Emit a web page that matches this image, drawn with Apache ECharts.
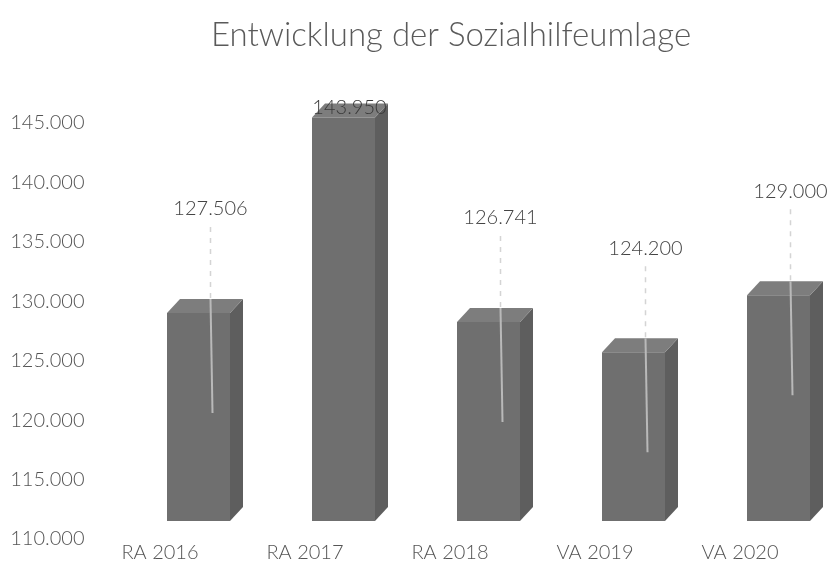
<!DOCTYPE html>
<html>
<head>
<meta charset="utf-8">
<script src="https://cdn.jsdelivr.net/npm/echarts@6/dist/echarts.min.js"></script>
<style>html,body{margin:0;padding:0;background:#fff}#c{width:830px;height:573px}</style>
</head>
<body>
<div id="c"></div>
<script>
const categories = ['RA 2016', 'RA 2017', 'RA 2018', 'VA 2019', 'VA 2020'];
const values = [127506, 143950, 126741, 124200, 129000];
const axisMin = 110000;
const axisMax = 145000;
const axisStep = 5000;

function fmt(v) {
  const s = String(Math.round(v));
  return s.replace(/\B(?=(\d{3})+(?!\d))/g, '.');
}

const chart = echarts.init(document.getElementById('c'), null, { renderer: 'canvas' });
const FONT = 'Lato, "Open Sans", sans-serif';

chart.setOption({
  backgroundColor: '#ffffff',
  animation: false,
  title: {
    text: 'Entwicklung der Sozialhilfeumlage',
    left: 446, top: 14, textAlign: 'center',
    textStyle: { fontFamily: FONT, fontSize: 33, fontWeight: 300, color: '#5a5a5a' }
  },
  grid: { left: 87.5, right: 17.5, top: 105, bottom: 52, containLabel: false },
  xAxis: {
    type: 'category',
    data: categories,
    axisLine: { show: false },
    axisTick: { show: false },
    axisLabel: { margin: 22, fontFamily: FONT, fontSize: 20, fontWeight: 300, color: '#555555' }
  },
  yAxis: {
    type: 'value',
    min: axisMin, max: axisMax, interval: axisStep,
    axisLine: { show: false },
    axisTick: { show: false },
    splitLine: { show: false },
    axisLabel: {
      margin: 3, showMinLabel: true, showMaxLabel: true, hideOverlap: false,
      fontFamily: FONT, fontSize: 20, fontWeight: 300, color: '#555555',
      formatter: v => '{s|}\n{n|' + fmt(v) + '}',
      rich: {
        s: { height: 36, fontSize: 20 },
        n: { height: 36, fontFamily: FONT, fontSize: 20, fontWeight: 300, color: '#555555' }
      }
    }
  },
  series: [{
    type: 'custom',
    data: values.map((v, i) => [i, v]),
    encode: { x: 0, y: 1 },
    renderItem: function (params, api) {
      const top = api.coord([api.value(0), api.value(1)]);
      const base = api.coord([api.value(0), axisMin]);
      const cx = top[0];
      const x0 = cx + 7, x1 = cx + 70;
      const dx = 13, dy = 14;
      const yt = top[1], yb = base[1];
      const backTop = yt - dy;
      const children = [
        { type: 'polygon', shape: { points: [[x1, yt], [x1 + dx, yt - dy], [x1 + dx, yb - dy], [x1, yb]] },
          style: { fill: '#5e5e5e' } },
        { type: 'polygon', shape: { points: [[x0, yt], [x0 + dx, yt - dy], [x1 + dx, yt - dy], [x1, yt]] },
          style: { fill: '#7d7d7d' } },
        { type: 'rect', shape: { x: x0, y: yt, width: x1 - x0, height: yb - yt },
          style: { fill: '#6f6f6f' } }
      ];
      const lx = (x0 + x1) / 2 + 12;
      let ly = backTop - 90;
      if (ly < 150) {
        ly = backTop + 4;
        children.push({ type: 'text', x: (x0 + x1) / 2 + 6, y: ly,
          style: { text: fmt(api.value(1)), fill: '#3a3a3a', font: '300 20px ' + FONT, textAlign: 'center', textVerticalAlign: 'middle' } });
      } else {
        children.push({ type: 'line', shape: { x1: lx, y1: ly + 18, x2: lx, y2: backTop },
          style: { stroke: '#d4d4d4', lineWidth: 1.5, lineDash: [5, 6] } });
        children.push({ type: 'line', shape: { x1: lx, y1: backTop, x2: lx + 2, y2: yt + 100 },
          style: { stroke: '#b9b9b9', lineWidth: 2 } });
        children.push({ type: 'text', x: lx, y: ly,
          style: { text: fmt(api.value(1)), fill: '#444444', font: '300 20px ' + FONT, textAlign: 'center', textVerticalAlign: 'middle' } });
      }
      return { type: 'group', children: children };
    }
  }]
});
</script>
</body>
</html>
